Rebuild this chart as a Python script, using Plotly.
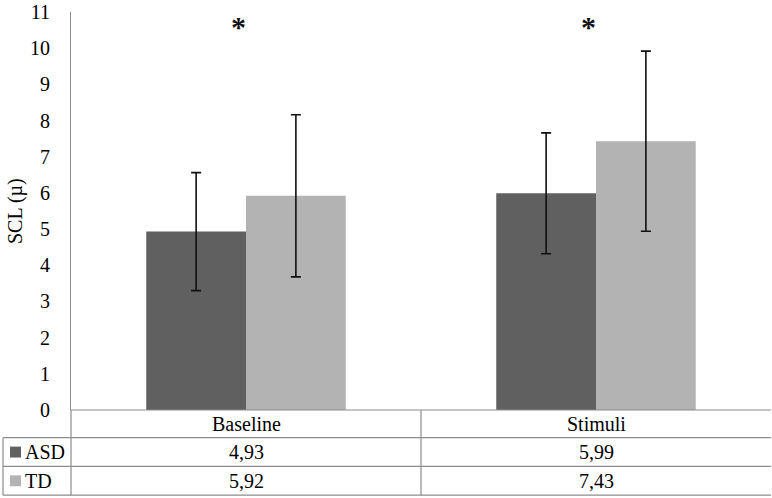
import plotly.graph_objects as go

categories = ['Baseline', 'Stimuli']
groups = ['ASD', 'TD']
asd_mean = [4.93, 5.99]
td_mean = [5.92, 7.43]
asd_sd = [1.63, 1.67]
td_sd = [2.24, 2.49]
sig_marks = ['*', '*']
y_ticks = list(range(0, 12))

ASD_C = '#606060'
TD_C = '#b3b3b3'
LINE = '#8c8c8c'
FONT = 'Liberation Serif, Times New Roman, serif'
FS = 20

# plot area in px: x 71..771, y 8..410 ; table below it
W, H = 772, 498
L, R, T, B = 71, 1, 8, 88
pw, ph = W - L - R, H - T - B


def px(xp):
    return (xp - L) / pw


def py(yp):
    return (H - B - yp) / ph


fig = go.Figure()
fig.add_trace(go.Bar(x=categories, y=asd_mean, name='ASD', marker_color=ASD_C, marker_line_width=0,
                     error_y=dict(type='data', array=asd_sd, color='#111111', thickness=1.6, width=5)))
fig.add_trace(go.Bar(x=categories, y=td_mean, name='TD', marker_color=TD_C, marker_line_width=0,
                     error_y=dict(type='data', array=td_sd, color='#111111', thickness=1.6, width=5)))

# significance marks above each group
for c, m in zip(categories, sig_marks):
    fig.add_annotation(x=c, y=10.6, xref='x', yref='y', text='<b>' + m + '</b>', showarrow=False, xshift=-8,
                       font=dict(family=FONT, size=30, color='#111111'))

# data table under the chart
row_y = [424, 452.5, 481.5]
cell = dict(showarrow=False, yanchor='middle', font=dict(family=FONT, size=FS, color='black'))
for c in categories:
    fig.add_annotation(x=c, y=py(row_y[0]), xref='x', yref='paper', text=c, xanchor='center', **cell)
for c, a, t in zip(categories, asd_mean, td_mean):
    for v, yy in ((a, row_y[1]), (t, row_y[2])):
        fig.add_annotation(x=c, y=py(yy), xref='x', yref='paper', text=f'{v:.2f}'.replace('.', ','),
                           xanchor='center', **cell)
for g, col, yy in zip(groups, [ASD_C, TD_C], row_y[1:]):
    fig.add_shape(type='rect', xref='paper', yref='paper', x0=px(10), x1=px(21), y0=py(yy + 5.5), y1=py(yy - 5.5),
                  fillcolor=col, line_width=0)
    fig.add_annotation(x=px(23), y=py(yy), xref='paper', yref='paper', text=g, xanchor='left', **cell)

for yy in (438, 467, 496):
    fig.add_shape(type='line', xref='paper', yref='paper', x0=px(3), x1=1, y0=py(yy), y1=py(yy),
                  line=dict(color=LINE, width=1.2))
fig.add_shape(type='line', xref='paper', yref='paper', x0=0, x1=1, y0=0, y1=0, line=dict(color=LINE, width=1.2))
fig.add_shape(type='line', xref='paper', yref='paper', x0=0, x1=0, y0=py(496), y1=0, line=dict(color=LINE, width=1.2))
fig.add_shape(type='line', xref='paper', yref='paper', x0=0.5, x1=0.5, y0=py(496), y1=0, line=dict(color=LINE, width=1.2))
fig.add_shape(type='line', xref='paper', yref='paper', x0=px(3), x1=px(3), y0=py(496), y1=py(438),
              line=dict(color=LINE, width=1.2))

fig.add_annotation(x=px(15), y=0.5, xref='paper', yref='paper', text='SCL (µ)', textangle=-90, showarrow=False,
                   xanchor='center', yanchor='middle', font=dict(family=FONT, size=FS, color='black'))

fig.update_layout(
    width=W, height=H, margin=dict(l=L, r=R, t=T, b=B),
    plot_bgcolor='white', paper_bgcolor='white',
    barmode='group', bargap=0.43, bargroupgap=0, showlegend=False,
    font=dict(family=FONT, size=FS, color='black'),
    xaxis=dict(showticklabels=False, showline=False, showgrid=False, zeroline=False),
    yaxis=dict(range=[0, 11], tickvals=y_ticks, showgrid=False, zeroline=False, showline=True,
               linecolor=LINE, linewidth=1.2, ticks='', ticklabelstandoff=16, ticklabeloverflow='allow',
               tickfont=dict(family=FONT, size=FS, color='black')),
)

fig.write_html('out.html', config={'displayModeBar': False},
               post_script="document.body.style.margin='0';document.body.style.overflow='hidden';")
